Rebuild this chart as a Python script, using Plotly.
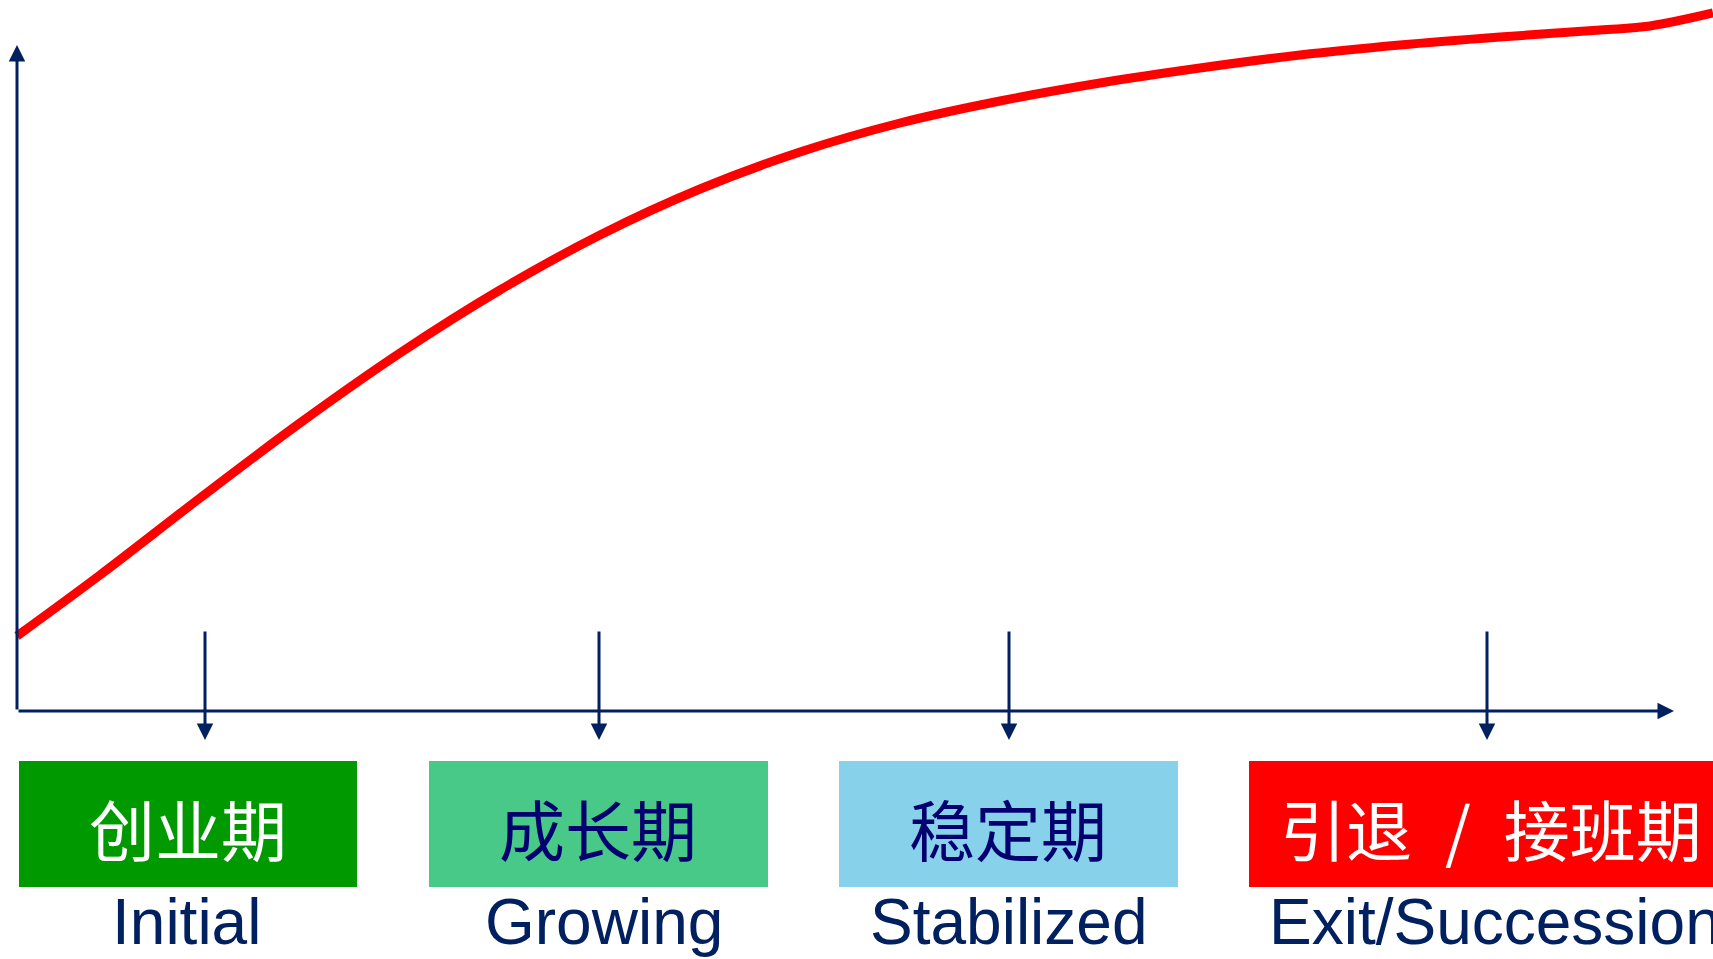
import plotly.graph_objects as go

# ---- data (x: time units, y: growth units; origin at axis crossing) ----
curve_x = [0.0, 8.3, 18.3, 28.3, 38.3, 48.3, 58.3, 68.3, 78.3, 88.3,
           98.3, 108.3, 118.3, 128.3, 138.3, 148.3, 158.3, 163.3, 169.6]
curve_y = [7.5, 13.6, 21.3, 28.8, 35.8, 42.1, 47.6, 52.2, 55.9, 58.8,
           61.0, 62.8, 64.3, 65.6, 66.6, 67.4, 68.1, 68.5, 69.8]

stage_x = [18.8, 58.2, 99.2, 147.0]           # stage marker positions
stage_cn = ["创业期", "成长期", "稳定期", "引退\u2002/\u2002接班期"]
stage_en = ["Initial", "Growing", "Stabilized", "Exit/Succession"]
box_x0 = [0.2, 41.2, 82.2, 123.2]
box_x1 = [34.0, 75.1, 116.1, 175.0]
box_colors = ["#009900", "#48C987", "#87D1EB", "#FF0000"]
cn_colors = ["#FFFFFF", "#000070", "#000070", "#FFFFFF"]
cn_x = [17.1, 58.1, 99.1, 147.4]
en_x = [16.9, 58.7, 99.2, 125.0]
en_anchor = ["center", "center", "center", "left"]

AX = "#002060"
X_RANGE = [-1.7, 169.6]
Y_RANGE = [-24.8, 71.1]
Y_TOP = 66.6      # y-axis arrow tip
X_END = 165.7     # x-axis arrow tip
TICK_TOP, TICK_TIP = 8.1, -2.9
BOX_Y0, BOX_Y1 = -5.0, -17.6
CN_Y, EN_Y = -11.6, -21.1

fig = go.Figure()

fig.add_trace(go.Scatter(
    x=curve_x, y=curve_y, mode="lines",
    line=dict(color="#FF0000", width=9, shape="spline", smoothing=1.0),
    hoverinfo="skip", showlegend=False,
))

annotations = []
# axes with arrows
annotations.append(dict(x=0, y=Y_TOP, ax=0, ay=0, xref="x", yref="y",
                        axref="x", ayref="y", text="", showarrow=True,
                        arrowhead=2, arrowsize=1.1, arrowwidth=3, arrowcolor=AX))
annotations.append(dict(x=X_END, y=0, ax=0, ay=0, xref="x", yref="y",
                        axref="x", ayref="y", text="", showarrow=True,
                        arrowhead=2, arrowsize=1.1, arrowwidth=3, arrowcolor=AX))
for sx in stage_x:
    annotations.append(dict(x=sx, y=TICK_TIP, ax=sx, ay=TICK_TOP, xref="x", yref="y",
                            axref="x", ayref="y", text="", showarrow=True,
                            arrowhead=2, arrowsize=1.1, arrowwidth=3, arrowcolor=AX))

shapes = []
for i in range(4):
    shapes.append(dict(type="rect", xref="x", yref="y",
                       x0=box_x0[i], x1=box_x1[i], y0=BOX_Y0, y1=BOX_Y1,
                       fillcolor=box_colors[i], line=dict(width=0), layer="below"))
    annotations.append(dict(x=cn_x[i], y=CN_Y, xref="x", yref="y", text=stage_cn[i],
                            showarrow=False, xanchor="center", yanchor="middle",
                            font=dict(family="Noto Sans CJK SC", size=66, color=cn_colors[i])))
    annotations.append(dict(x=en_x[i], y=EN_Y, xref="x", yref="y", text=stage_en[i],
                            showarrow=False, xanchor=en_anchor[i], yanchor="middle",
                            font=dict(family="Liberation Sans, Arial", size=64, color=AX)))

fig.update_layout(
    width=1713, height=959,
    margin=dict(l=0, r=0, t=0, b=0),
    paper_bgcolor="white", plot_bgcolor="white",
    xaxis=dict(range=X_RANGE, visible=False, fixedrange=True),
    yaxis=dict(range=Y_RANGE, visible=False, fixedrange=True),
    shapes=shapes, annotations=annotations,
    showlegend=False,
)

fig.write_html("out.html", config={"displayModeBar": False},
               post_script="document.body.style.margin='0';document.body.style.overflow='hidden';")
